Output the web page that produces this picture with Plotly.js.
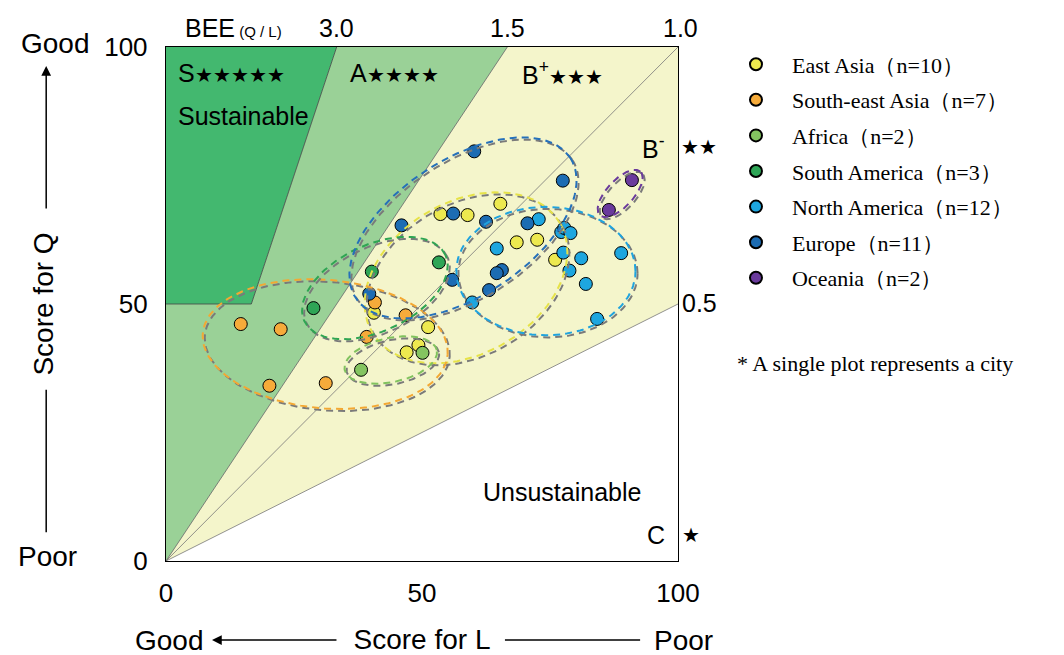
<!DOCTYPE html>
<html>
<head>
<meta charset="utf-8">
<script src="https://cdn.plot.ly/plotly-3.0.1.min.js"></script>
<style>html,body{margin:0;padding:0;background:#fff;}#chart{width:1064px;height:655px;}</style>
</head>
<body>
<div id="chart"></div>
<script>
// ---- data (Score for L, Score for Q) ----
const groupNames = ["East Asia（n=10）", "South-east Asia（n=7）", "Africa（n=2）", "South America（n=3）", "North America（n=12）", "Europe（n=11）", "Oceania（n=2）"];

const eastAsiaL = [40.6, 51.2, 47.0, 49.3, 53.6, 58.9, 65.3, 68.5, 72.5, 76.0];
const eastAsiaQ = [48.3, 45.5, 40.6, 42.0, 67.5, 67.3, 69.5, 62.0, 62.5, 58.6];

const seAsiaL = [14.6, 22.4, 20.2, 31.2, 39.2, 40.8, 46.8];
const seAsiaQ = [46.1, 45.1, 34.1, 34.6, 43.6, 50.3, 47.8];

const africaL = [38.1, 50.1];
const africaQ = [37.2, 40.5];

const southAmericaL = [28.8, 40.2, 53.3];
const southAmericaQ = [49.2, 56.3, 58.1];

const northAmericaL = [72.8, 64.6, 59.8, 77.2, 77.8, 79.0, 77.6, 78.8, 81.1, 82.0, 88.9, 84.2];
const northAmericaQ = [66.5, 60.8, 50.3, 64.0, 64.8, 63.8, 60.0, 56.5, 58.9, 53.9, 59.9, 47.1];

const europeL = [39.7, 46.0, 56.1, 62.5, 70.6, 55.9, 65.6, 64.6, 63.1, 60.2, 77.5];
const europeQ = [52.0, 65.3, 67.6, 66.0, 65.7, 54.7, 56.6, 56.0, 52.7, 79.7, 74.0];

const oceaniaL = [91.0, 86.5];
const oceaniaQ = [74.1, 68.3];

// group distribution ellipses: centre, semi-axes, angle (deg)
const ellipseCx    = [58.6, 31.1, 43.9, 40.8, 74.2, 58.0, 88.7];
const ellipseCy    = [55.1, 42.2, 39.1, 53.1, 56.4, 64.8, 71.5];
const ellipseA     = [21.2, 24.0,  9.2, 15.2, 17.5, 25.0,  5.8];
const ellipseB     = [14.8, 12.5,  4.3,  8.4, 12.5, 13.3,  2.6];
const ellipseAngle = [30,   -5,   12,   25,    0,   33,   47];

// axis ticks
const tickVals = [0, 50, 100];
const tickText = ["0", "50", "100"];

// ---- styles ----
const markerColors = ["#ede94f", "#f6ab3a", "#84c460", "#2ea556", "#1ea6df", "#1c6cb3", "#6a3a9c"];
const dashColors   = ["#e6e248", "#f3a833", "#80c25e", "#2fa553", "#1fa3de", "#2570ba", "#6a3a9c"];
const SANS = "Liberation Sans, Arial, sans-serif";
const SERIF = "Liberation Serif, Times New Roman, serif";

const xs = [eastAsiaL, seAsiaL, africaL, southAmericaL, northAmericaL, europeL, oceaniaL];
const ys = [eastAsiaQ, seAsiaQ, africaQ, southAmericaQ, northAmericaQ, europeQ, oceaniaQ];

const traces = [];
for (let i = 0; i < groupNames.length; i++) {
  traces.push({
    type: "scatter", mode: "markers", name: groupNames[i],
    x: xs[i], y: ys[i], legendgroup: "g" + i,
    marker: {size: 13, color: markerColors[i], line: {color: "#000", width: 1}},
    cliponaxis: false, hoverinfo: "x+y+name"
  });
}

function ellipsePts(cx, cy, a, b, angDeg, dx, dy) {
  const th = angDeg * Math.PI / 180, X = [], Y = [];
  const n = 160;
  for (let k = 0; k <= n; k++) {
    const t = 2 * Math.PI * k / n;
    X.push(cx + dx + a * Math.cos(t) * Math.cos(th) - b * Math.sin(t) * Math.sin(th));
    Y.push(cy + dy + a * Math.cos(t) * Math.sin(th) + b * Math.sin(t) * Math.cos(th));
  }
  return [X, Y];
}
for (let i = 0; i < groupNames.length; i++) {
  const g = ellipsePts(ellipseCx[i], ellipseCy[i], ellipseA[i], ellipseB[i], ellipseAngle[i], 0.4, -0.4);
  traces.push({type: "scatter", mode: "lines", x: g[0], y: g[1], showlegend: false, hoverinfo: "skip",
    line: {color: "#7a7a7a", width: 2, dash: "7px,5px"}});
  const c = ellipsePts(ellipseCx[i], ellipseCy[i], ellipseA[i], ellipseB[i], ellipseAngle[i], 0, 0);
  traces.push({type: "scatter", mode: "lines", x: c[0], y: c[1], showlegend: false, hoverinfo: "skip",
    line: {color: dashColors[i], width: 2, dash: "7px,5px"}});
}

// ---- background regions (CASBEE rank zones) ----
const shapes = [
  {type: "path", path: "M 0 0 L 100 50 L 100 100 L 66.667 100 Z", xref: "x", yref: "y", fillcolor: "#f4f5cb", line: {width: 0}, layer: "below"},
  {type: "path", path: "M 0 0 L 66.667 100 L 33.333 100 L 16.667 50 L 0 50 Z", xref: "x", yref: "y", fillcolor: "#9ad197", line: {width: 0}, layer: "below"},
  {type: "path", path: "M 0 50 L 16.667 50 L 33.333 100 L 0 100 Z", xref: "x", yref: "y", fillcolor: "#43b86f", line: {width: 0}, layer: "below"},
  {type: "line", x0: 0, y0: 0, x1: 100, y1: 100, xref: "x", yref: "y", line: {color: "#777", width: 0.8}, layer: "below"},
  {type: "line", x0: 0, y0: 0, x1: 100, y1: 50, xref: "x", yref: "y", line: {color: "#777", width: 0.8}, layer: "below"},
  {type: "line", x0: 0, y0: 0, x1: 66.667, y1: 100, xref: "x", yref: "y", line: {color: "#666", width: 0.8}, layer: "below"},
  {type: "path", path: "M 0 50 L 16.667 50 L 33.333 100", xref: "x", yref: "y", line: {color: "#444", width: 0.8}, layer: "below"},
  // axis-title guide lines
  {type: "line", xref: "paper", yref: "paper", x0: -0.234, x1: -0.234, y0: 0.333, y1: 0.056, line: {color: "#000", width: 1.5}},
  {type: "line", xref: "paper", yref: "paper", x0: 0.662, x1: 0.926, y0: -0.1537, y1: -0.1537, line: {color: "#000", width: 1.5}}
];

const ann = [];
function A(o, size) {
  ann.push(Object.assign({showarrow: false, xanchor: "center", yanchor: "middle",
    font: {family: SANS, size: size || 25, color: "#000"}}, o));
}
const star = s => "<span style='font-size:20px'>" + s + "</span>";
// zone labels
A({x: 0.02, y: 0.95, xref: "paper", yref: "paper", xanchor: "left", text: "S" + star("★★★★★")});
A({x: 0.355, y: 0.95, xref: "paper", yref: "paper", xanchor: "left", text: "A" + star("★★★★")});
A({x: 0.691, y: 0.95, xref: "paper", yref: "paper", xanchor: "left", text: "B<sup>+</sup>" + star("★★★")});
A({x: 0.02, y: 0.866, xref: "paper", yref: "paper", xanchor: "left", text: "Sustainable"});
A({x: 0.926, y: 0.805, xref: "paper", yref: "paper", xanchor: "left", text: "B<sup>-</sup>"});
A({x: 1.002, y: 0.805, xref: "paper", yref: "paper", xanchor: "left", text: star("★★")});
A({x: 0.615, y: 0.134, xref: "paper", yref: "paper", xanchor: "left", text: "Unsustainable"});
A({x: 0.957, y: 0.051, xref: "paper", yref: "paper", text: "C"});
A({x: 1.003, y: 0.051, xref: "paper", yref: "paper", xanchor: "left", text: star("★")});
A({x: 1.004, y: 0.502, xref: "paper", yref: "paper", xanchor: "left", text: "0.5"});
// BEE header
A({x: 0.033, y: 1, xref: "paper", yref: "paper", xanchor: "left", yshift: 19, text: "BEE<span style='font-size:15px'> (Q / L)</span>"});
A({x: 0.3333, y: 1, xref: "paper", yref: "paper", yshift: 19, text: "3.0"});
A({x: 0.6667, y: 1, xref: "paper", yref: "paper", yshift: 19, text: "1.5"});
A({x: 1.004, y: 1, xref: "paper", yref: "paper", yshift: 19, text: "1.0"});
// Good / Poor
A({x: -0.215, y: 1.006, xref: "paper", yref: "paper", text: "Good"}, 28);
A({x: -0.232, y: 0.0078, xref: "paper", yref: "paper", text: "Poor"}, 28);
A({x: 0.006, y: -0.1537, xref: "paper", yref: "paper", text: "Good"}, 28);
A({x: 1.01, y: -0.1537, xref: "paper", yref: "paper", text: "Poor"}, 28);
// arrows
ann.push({x: -0.234, y: 0.963, xref: "paper", yref: "paper", text: "", showarrow: true, ax: 0, ay: 144,
  arrowhead: 2, arrowsize: 1.3, arrowwidth: 1.5, arrowcolor: "#000"});
ann.push({x: 0.0898, y: -0.1537, xref: "paper", yref: "paper", text: "", showarrow: true, ax: 126, ay: 0,
  arrowhead: 2, arrowsize: 1.3, arrowwidth: 1.5, arrowcolor: "#000"});
// footnote
ann.push({x: 1.111, y: 0.385, xref: "paper", yref: "paper", xanchor: "left", yanchor: "middle", showarrow: false,
  text: "* A single plot represents a city", font: {family: SERIF, size: 22, color: "#000"}});

const layout = {
  width: 1064, height: 655,
  margin: {l: 166, r: 386, t: 47, b: 94},
  paper_bgcolor: "#fff", plot_bgcolor: "#fff",
  showlegend: true,
  legend: {x: 1.082, xanchor: "left", y: 1.007, yanchor: "top", font: {family: SERIF, size: 22, color: "#000"},
    tracegroupgap: 4, itemsizing: "constant", bgcolor: "rgba(0,0,0,0)", itemwidth: 62},
  xaxis: {range: [0, 100], tickvals: tickVals, ticktext: tickText, showgrid: false, zeroline: false,
    showline: true, mirror: true, linecolor: "#000", linewidth: 1.2, ticks: "", ticklabelstandoff: 9,
    tickfont: {family: SANS, size: 26, color: "#000"},
    title: {text: "Score for L", font: {family: SANS, size: 28, color: "#000"}, standoff: 26}, fixedrange: true},
  yaxis: {range: [0, 100], tickvals: tickVals, ticktext: tickText, showgrid: false, zeroline: false,
    showline: true, mirror: true, linecolor: "#000", linewidth: 1.2, ticks: "", ticklabelstandoff: 12,
    tickfont: {family: SANS, size: 26, color: "#000"},
    title: {text: "Score for Q", font: {family: SANS, size: 28, color: "#000"}, standoff: 42}, fixedrange: true},
  shapes: shapes,
  annotations: ann
};

Plotly.newPlot("chart", traces, layout, {displayModeBar: false, staticPlot: true});
</script>
</body>
</html>
